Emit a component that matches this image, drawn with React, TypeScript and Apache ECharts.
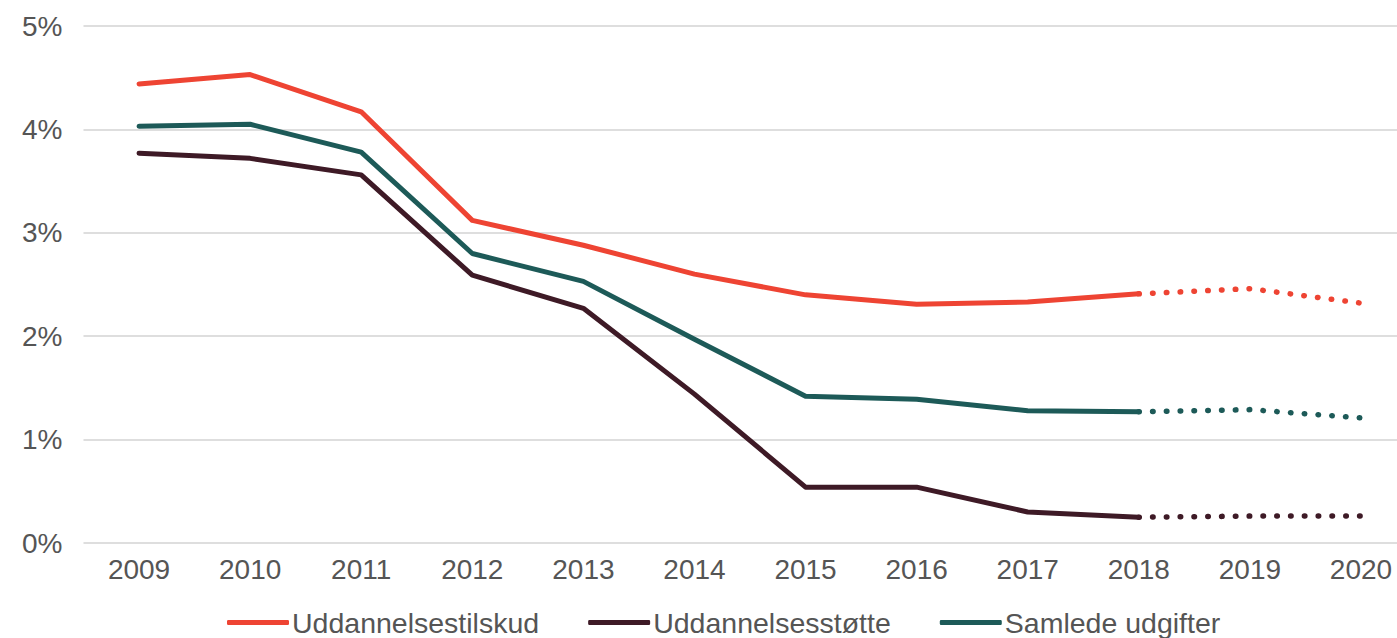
import React, { useEffect, useRef } from "react";
import * as echarts from "echarts";

const years = ["2009", "2010", "2011", "2012", "2013", "2014", "2015", "2016", "2017", "2018", "2019", "2020"];
const tilskud = [4.44, 4.53, 4.17, 3.12, 2.88, 2.6, 2.4, 2.31, 2.33, 2.41, 2.46, 2.32];
const stoette = [3.77, 3.72, 3.56, 2.59, 2.27, 1.44, 0.54, 0.54, 0.3, 0.25, 0.26, 0.26];
const samlede = [4.03, 4.05, 3.78, 2.8, 2.53, 1.97, 1.42, 1.39, 1.28, 1.27, 1.29, 1.21];
const names = ["Uddannelsestilskud", "Uddannelsesstøtte", "Samlede udgifter"];
const colors = ["#EE4433", "#3E1A26", "#1D5A58"];
const lastActual = 9; // index of 2018

const solid = (arr: number[]) => arr.map((v, i) => (i <= lastActual ? v : null));
const dotted = (arr: number[]) => arr.map((v, i) => (i >= lastActual ? v : null));

export default function App() {
  const ref = useRef<HTMLDivElement>(null);
  useEffect(() => {
    if (!ref.current) return;
    const chart = echarts.init(ref.current, null, { renderer: "svg" });
    const all = [tilskud, stoette, samlede];
    const series: any[] = [];
    all.forEach((arr, k) => {
      series.push({
        name: names[k],
        type: "line",
        data: solid(arr),
        showSymbol: false,
        symbol: "none",
        lineStyle: { color: colors[k], width: 5, cap: "round", join: "round" },
        itemStyle: { color: colors[k] },
        z: 3 - k,
      });
    });
    all.forEach((arr, k) => {
      series.push({
        name: names[k] + " (prognose)",
        type: "line",
        data: dotted(arr),
        showSymbol: false,
        symbol: "none",
        lineStyle: { color: colors[k], width: 5.5, type: [0.5, 13.3], cap: "round" },
        itemStyle: { color: colors[k] },
        z: 3 - k,
      });
    });
    chart.setOption({
      animation: false,
      backgroundColor: "#ffffff",
      grid: { left: 83.5, width: 1333, top: 26, height: 517 },
      legend: {
        data: names,
        left: 222,
        top: 603,
        itemWidth: 62,
        itemHeight: 5,
        itemGap: 49,
        icon: "roundRect",
        textStyle: { fontFamily: "Liberation Sans", fontSize: 28.5, lineHeight: 28, color: "#555", padding: [0, 0, 0, -2] },
      },
      xAxis: {
        type: "category",
        data: years,
        boundaryGap: true,
        axisLine: { show: false },
        axisTick: { show: false },
        axisLabel: { fontFamily: "Liberation Sans", fontSize: 28, color: "#555", margin: 12 },
      },
      yAxis: {
        type: "value",
        min: 0,
        max: 5,
        interval: 1,
        axisLabel: {
          formatter: (v: number) => v + "%",
          fontFamily: "Liberation Sans",
          fontSize: 28,
          color: "#555",
          margin: 21,
        },
        splitLine: { lineStyle: { color: "#dedede", width: 2 } },
      },
      series,
    });
    return () => chart.dispose();
  }, []);
  return (
    <div style={{ position: "absolute", left: 0, top: 0, width: 1397, height: 638, overflow: "hidden" }}>
      <div ref={ref} style={{ width: 1420, height: 638 }} />
    </div>
  );
}
